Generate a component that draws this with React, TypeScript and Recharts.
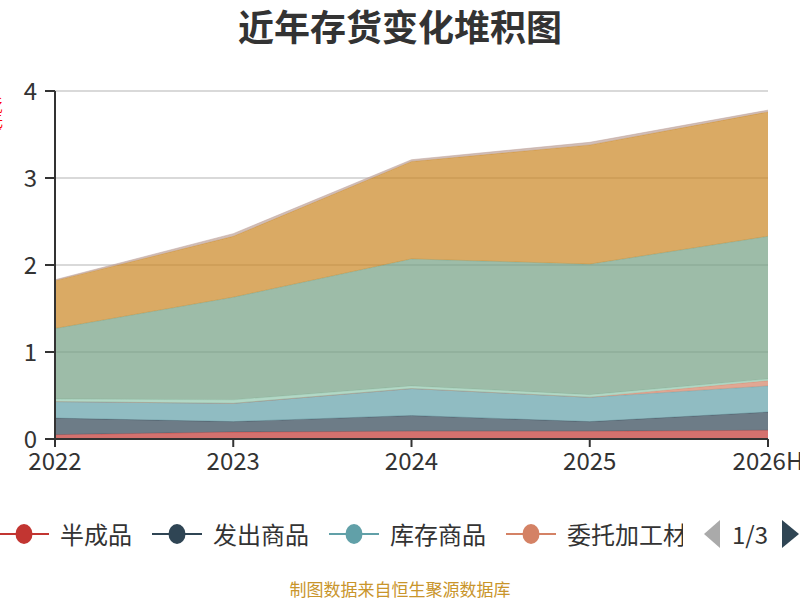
import React from "react";
import { AreaChart, Area, XAxis, YAxis, CartesianGrid } from "recharts";

const categories = ["2022", "2023", "2024", "2025", "2026H"];
const seriesNames = [
  "半成品",
  "发出商品",
  "库存商品",
  "委托加工材料",
  "消耗性生物资产",
  "原材料",
  "在产品",
  "周转材料",
];
const colors = [
  "#c23531",
  "#2f4554",
  "#61a0a8",
  "#d48265",
  "#91c7ae",
  "#749f83",
  "#ca8622",
  "#bda29a",
];
const banChengPin = [0.05, 0.08, 0.09, 0.09, 0.1];
const faChuShangPin = [0.19, 0.12, 0.18, 0.11, 0.21];
const kuCunShangPin = [0.19, 0.21, 0.31, 0.28, 0.3];
const weiTuoJiaGong = [0, 0, 0, 0, 0.06];
const xiaoHaoXing = [0.03, 0.04, 0.03, 0.03, 0.02];
const yuanCaiLiao = [0.81, 1.18, 1.46, 1.5, 1.64];
const zaiChanPin = [0.55, 0.7, 1.12, 1.37, 1.43];
const zhouZhuan = [0.01, 0.03, 0.02, 0.03, 0.02];
const yTicks = [0, 1, 2, 3, 4];
const pagerLabel = "1/3";
const legendVisibleCount = 4;
const yAxisName = "(亿元)";

const seriesValues = [
  banChengPin,
  faChuShangPin,
  kuCunShangPin,
  weiTuoJiaGong,
  xiaoHaoXing,
  yuanCaiLiao,
  zaiChanPin,
  zhouZhuan,
];

const data = categories.map((c, i) => {
  const row: Record<string, string | number> = { name: c };
  seriesNames.forEach((s, j) => {
    row[s] = seriesValues[j][i];
  });
  return row;
});

const FONT = '"Noto Sans CJK SC", "Noto Sans", sans-serif';

function LegendBar() {
  return (
    <div
      style={{
        position: "absolute",
        left: 0,
        top: 516,
        width: 683,
        height: 36,
        overflow: "hidden",
      }}
    >
      <div
        style={{
          position: "absolute",
          left: -1,
          top: 0,
          height: 36,
          display: "flex",
          alignItems: "center",
          whiteSpace: "nowrap",
        }}
      >
        {seriesNames.slice(0, legendVisibleCount).map((n, i) => (
          <div
            key={n}
            style={{ display: "flex", alignItems: "center", marginRight: 20 }}
          >
            <svg width={50} height={24}>
              <line x1={0} y1={12} x2={50} y2={12} stroke={colors[i]} strokeWidth={2} />
              <ellipse cx={25} cy={12} rx={8.5} ry={10} fill={colors[i]} />
            </svg>
            <span
              style={{
                marginLeft: 11,
                fontSize: 24,
                color: "#333",
                fontFamily: FONT,
                lineHeight: "36px",
              }}
            >
              {n}
            </span>
          </div>
        ))}
      </div>
    </div>
  );
}

function Pager() {
  return (
    <div style={{ position: "absolute", left: 700, top: 516, width: 100, height: 36 }}>
      <svg width={100} height={36} style={{ position: "absolute", left: 0, top: 0 }}>
        <polygon points="20,4 20,32 4,18" fill="#aaa" />
        <polygon points="82,4 82,32 99,18" fill="#2f4554" />
      </svg>
      <span
        style={{
          position: "absolute",
          left: 32,
          top: 0,
          fontSize: 24,
          lineHeight: "36px",
          color: "#333",
          fontFamily: FONT,
        }}
      >
        {pagerLabel}
      </span>
    </div>
  );
}

export default function App() {
  return (
    <div
      style={{
        position: "absolute",
        left: 0,
        top: 0,
        width: 800,
        height: 600,
        background: "#fff",
        overflow: "hidden",
        fontFamily: FONT,
      }}
    >
      <div
        style={{
          position: "absolute",
          left: 0,
          top: 1,
          width: 800,
          textAlign: "center",
          fontSize: 36,
          fontWeight: "bold",
          color: "#333",
          lineHeight: "48px",
        }}
      >
        近年存货变化堆积图
      </div>
      <div
        style={{
          position: "absolute",
          left: -11,
          top: 95,
          writingMode: "vertical-rl",
          fontSize: 14,
          color: "#ff0000",
          lineHeight: "14px",
        }}
      >
        {yAxisName}
      </div>
      <div style={{ position: "absolute", left: 0, top: 0 }}>
        <AreaChart
          width={800}
          height={600}
          data={data}
          margin={{ top: 91, right: 32, left: 0, bottom: 131 }}
        >
          <CartesianGrid vertical={false} stroke="#ccc" strokeWidth={1.5} />
          <XAxis
            dataKey="name"
            height={30}
            interval={0}
            tickSize={8}
            tickMargin={6}
            axisLine={{ stroke: "#333", strokeWidth: 2 }}
            tickLine={{ stroke: "#333", strokeWidth: 2 }}
            tick={{ fill: "#333", fontSize: 24, fontFamily: FONT }}
          />
          <YAxis
            width={55}
            domain={[0, 4]}
            ticks={yTicks}
            interval={0}
            tickSize={10}
            tickMargin={8}
            axisLine={{ stroke: "#333", strokeWidth: 2 }}
            tickLine={{ stroke: "#333", strokeWidth: 2 }}
            tick={{ fill: "#333", fontSize: 24, fontFamily: FONT }}
          />
          {seriesNames.map((s, i) => (
            <Area
              key={s}
              type="linear"
              dataKey={s}
              stackId="a"
              stroke={colors[i]}
              strokeWidth={1}
              strokeOpacity={0.5}
              fill={colors[i]}
              fillOpacity={0.7}
              isAnimationActive={false}
              dot={false}
              activeDot={false}
            />
          ))}
        </AreaChart>
      </div>
      <LegendBar />
      <Pager />
      <div
        style={{
          position: "absolute",
          left: 0,
          top: 577,
          width: 800,
          textAlign: "center",
          fontSize: 17,
          color: "#c9952b",
          lineHeight: "24px",
        }}
      >
        制图数据来自恒生聚源数据库
      </div>
    </div>
  );
}
